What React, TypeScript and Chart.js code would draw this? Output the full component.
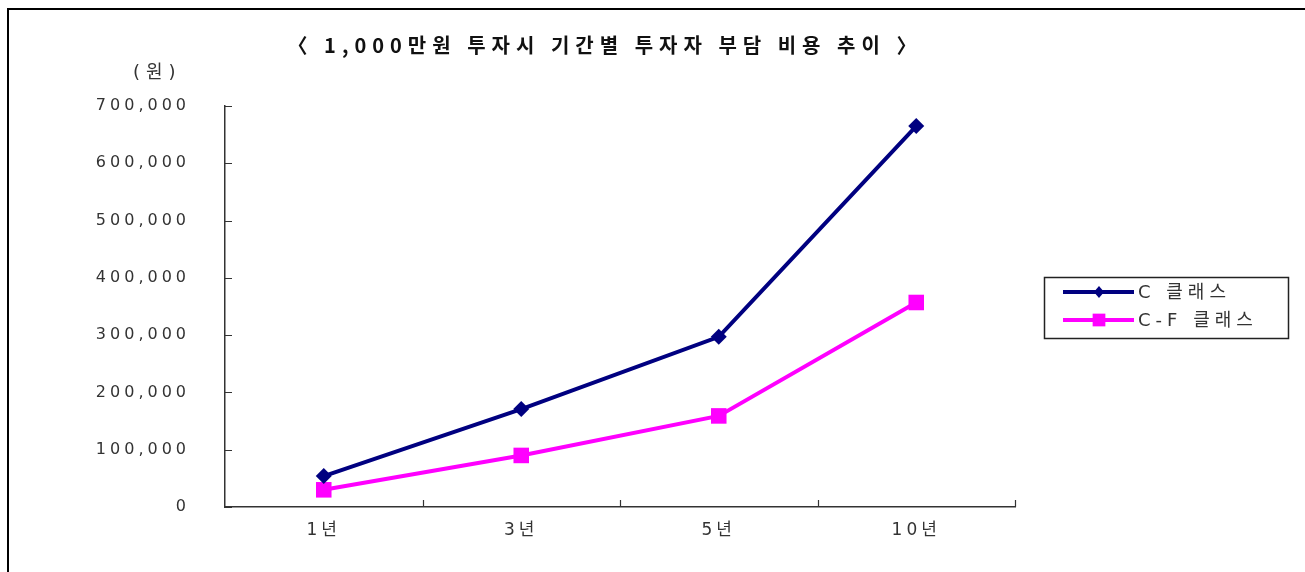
import React, { useEffect, useRef } from "react";
import { Chart, registerables } from "chart.js";

Chart.register(...registerables);

const titleText = "〈 1,000만원 투자시 기간별 투자자 부담 비용 추이 〉";
const unitText = "(원)";
const categories = ["1년", "3년", "5년", "10년"];
const seriesNames = ["C 클래스", "C-F 클래스"];
const seriesC = [54000, 171000, 297000, 665000];
const seriesCF = [30000, 90000, 159000, 357000];
const yMin = 0;
const yMax = 700000;
const yStep = 100000;

const FONT = "'DejaVu Sans', 'Noto Sans CJK KR', sans-serif";
const SPACING = "4px";

const spacingPlugin = {
  id: "spacing",
  beforeLayout(chart: any) {
    chart.ctx.letterSpacing = SPACING;
  },
  beforeDraw(chart: any) {
    chart.ctx.letterSpacing = SPACING;
  },
};

const innerTicksPlugin = {
  id: "innerTicks",
  beforeDatasetsDraw(chart: any) {
    const ctx = chart.ctx;
    const x = chart.scales.x;
    const y = chart.scales.y;
    ctx.save();
    ctx.strokeStyle = "#333";
    ctx.lineWidth = 1.2;
    ctx.beginPath();
    y.ticks.forEach((t: any) => {
      const py = Math.round(y.getPixelForValue(t.value)) + 0.5;
      ctx.moveTo(x.left, py);
      ctx.lineTo(x.left + 7, py);
    });
    const n = chart.data.labels.length;
    for (let i = 1; i <= n; i++) {
      const px = Math.round(x.left + (i * x.width) / n) + 0.5;
      ctx.moveTo(px, y.bottom);
      ctx.lineTo(px, y.bottom - 7);
    }
    ctx.stroke();
    ctx.restore();
  },
};

function drawMarker(ctx: any, style: string, cx: number, cy: number, r: number, color: string) {
  ctx.fillStyle = color;
  ctx.beginPath();
  if (style === "rectRot") {
    ctx.moveTo(cx, cy - r);
    ctx.lineTo(cx + r * 0.85, cy);
    ctx.lineTo(cx, cy + r);
    ctx.lineTo(cx - r * 0.85, cy);
    ctx.closePath();
  } else {
    const s = r * Math.SQRT1_2;
    ctx.rect(cx - s, cy - s, 2 * s, 2 * s);
  }
  ctx.fill();
}

const legendPlugin = {
  id: "boxLegend",
  afterDraw(chart: any) {
    const ctx = chart.ctx;
    ctx.save();
    ctx.letterSpacing = "5px";
    ctx.strokeStyle = "#222";
    ctx.lineWidth = 1.5;
    ctx.strokeRect(1044.5, 277.5, 244, 61);
    const rows = [292, 320];
    chart.data.datasets.forEach((ds: any, i: number) => {
      const cy = rows[i];
      ctx.strokeStyle = ds.borderColor;
      ctx.lineWidth = ds.borderWidth;
      ctx.beginPath();
      ctx.moveTo(1063, cy);
      ctx.lineTo(1134, cy);
      ctx.stroke();
      drawMarker(ctx, ds.pointStyle, 1099, cy, ds.pointStyle === "rectRot" ? 6 : 9, ds.borderColor);
      ctx.fillStyle = "#333";
      ctx.font = "18px " + FONT;
      ctx.textBaseline = "middle";
      ctx.textAlign = "left";
      ctx.fillText(ds.label, 1138, cy + 1);
    });
    ctx.restore();
  },
};

export default function App() {
  const ref = useRef<HTMLCanvasElement | null>(null);
  useEffect(() => {
    if (!ref.current) return;
    const chart = new Chart(ref.current, {
      type: "line",
      data: {
        labels: categories,
        datasets: [
          {
            label: seriesNames[0],
            data: seriesC,
            borderColor: "#000080",
            backgroundColor: "#000080",
            borderWidth: 4,
            pointStyle: "rectRot",
            pointRadius: 8,
            pointBorderWidth: 0,
            tension: 0,
          },
          {
            label: seriesNames[1],
            data: seriesCF,
            borderColor: "#FF00FF",
            backgroundColor: "#FF00FF",
            borderWidth: 4,
            pointStyle: "rect",
            pointRadius: 11,
            pointBorderWidth: 0,
            tension: 0,
          },
        ],
      },
      options: {
        responsive: false,
        animation: false,
        devicePixelRatio: 1,
        layout: { padding: { left: 0, top: 106, right: 290, bottom: 0 } },
        plugins: {
          legend: { display: false },
          title: { display: false },
          tooltip: { enabled: false },
        },
        scales: {
          x: {
            type: "category",
            offset: true,
            grid: { display: true, drawOnChartArea: false, drawTicks: false, offset: true },
            border: { display: true, color: "#333", width: 1.5 },
            ticks: {
              color: "#333",
              font: { family: FONT, size: 17 },
              padding: 13,
              maxRotation: 0,
            },
            afterFit: (s: any) => {
              s.height = 65;
            },
          },
          y: {
            type: "linear",
            min: yMin,
            max: yMax,
            grid: { display: true, drawOnChartArea: false, drawTicks: false },
            border: { display: true, color: "#333", width: 1.5 },
            ticks: {
              stepSize: yStep,
              color: "#333",
              font: { family: FONT, size: 16 },
              padding: 35,
              callback: (v: any) => Number(v).toLocaleString("en-US"),
            },
            afterFit: (s: any) => {
              s.width = 225;
            },
          },
        },
      } as any,
      plugins: [spacingPlugin, innerTicksPlugin, legendPlugin],
    });
    return () => chart.destroy();
  }, []);

  return (
    <div
      style={{
        position: "absolute",
        left: 0,
        top: 0,
        width: 1305,
        height: 572,
        overflow: "hidden",
        background: "#fff",
      }}
    >
      <canvas ref={ref} width={1305} height={572} style={{ position: "absolute", left: 0, top: 0, width: 1305, height: 572 }} />
      <div
        style={{
          position: "absolute",
          left: 7,
          top: 8,
          width: 1400,
          height: 700,
          borderLeft: "2px solid #000",
          borderTop: "2px solid #000",
          pointerEvents: "none",
        }}
      />
      <div
        style={{
          position: "absolute",
          left: 0,
          width: 1210,
          top: 30,
          textAlign: "center",
          fontFamily: "'Noto Sans CJK KR', sans-serif",
          fontWeight: 700,
          fontSize: 20,
          letterSpacing: 6,
          lineHeight: "30px",
          color: "#111",
          whiteSpace: "nowrap",
        }}
      >
        {titleText}
      </div>
      <div
        style={{
          position: "absolute",
          left: 133,
          top: 59,
          fontFamily: FONT,
          fontSize: 18,
          letterSpacing: 6,
          lineHeight: "26px",
          color: "#333",
        }}
      >
        {unitText}
      </div>
    </div>
  );
}
